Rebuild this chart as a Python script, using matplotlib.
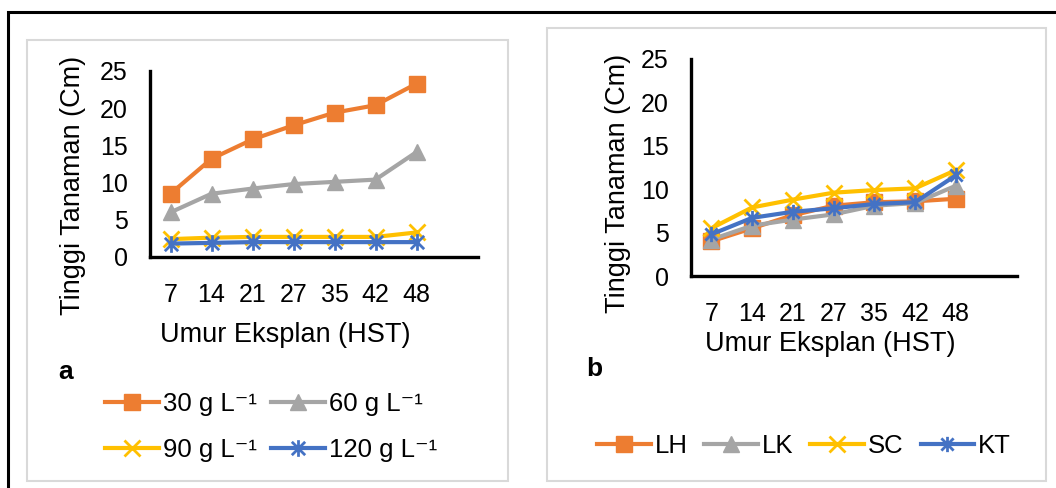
import numpy as np
import matplotlib
matplotlib.use("Agg")
import matplotlib.pyplot as plt
from matplotlib.patches import Rectangle
from matplotlib.path import Path

plt.rcParams['font.family'] = ['Liberation Sans', 'DejaVu Sans']

# data
umur = ['7', '14', '21', '27', '35', '42', '48']

g30 = [8.5, 13.2, 15.8, 17.7, 19.4, 20.4, 23.3]
g60 = [6.0, 8.5, 9.2, 9.8, 10.1, 10.4, 14.1]
g90 = [2.4, 2.6, 2.7, 2.7, 2.7, 2.7, 3.3]
g120 = [1.8, 1.9, 2.0, 2.0, 2.0, 2.0, 2.0]

lh = [4.0, 5.5, 7.0, 8.1, 8.5, 8.6, 8.9]
lk = [4.2, 5.8, 6.5, 7.1, 8.1, 8.4, 10.4]
sc = [5.5, 7.9, 8.8, 9.6, 9.9, 10.1, 12.2]
kt = [4.8, 6.7, 7.4, 7.8, 8.3, 8.5, 11.6]

orange = '#ED7D31'
gray = '#A5A5A5'
yellow = '#FFC000'
blue = '#4472C4'

# excel-like star marker: X plus vertical bar
star = Path([(0, -1), (0, 1), (-0.8, -0.8), (0.8, 0.8), (-0.8, 0.8), (0.8, -0.8)],
            [Path.MOVETO, Path.LINETO, Path.MOVETO, Path.LINETO, Path.MOVETO, Path.LINETO])

W, H = 1056, 488
fig = plt.figure(figsize=(W / 100, H / 100), dpi=100)


def px(x0, y0, x1, y1):
    # pixel box -> figure fraction [l, b, w, h]
    return [x0 / W, 1 - y1 / H, (x1 - x0) / W, (y1 - y0) / H]


# frames
fig.add_artist(Rectangle((8 / W, -0.1), 1.2, 1.1 - 12 / H, transform=fig.transFigure,
                         fill=False, ec='black', lw=2.2))
for box in [(27, 40, 508, 481), (547, 28, 1046, 481)]:
    l, b, w, h = px(*box)
    fig.add_artist(Rectangle((l, b), w, h, transform=fig.transFigure,
                             fill=False, ec='#D9D9D9', lw=1.5))

x = np.arange(len(umur))


def style(ax, xl, yl):
    ax.set_xlim(-0.5, 7.5)
    ax.set_ylim(0, 25)
    ax.set_yticks([0, 5, 10, 15, 20, 25])
    ax.set_xticks(x)
    ax.set_xticklabels(umur)
    for s in ['top', 'right']:
        ax.spines[s].set_visible(False)
    for s in ['left', 'bottom']:
        ax.spines[s].set_linewidth(2.4)
        ax.spines[s].set_color('black')
    ax.tick_params(length=0, labelsize=18, pad=16)
    ax.tick_params(axis='x', pad=19)
    ax.set_xlabel('Umur Eksplan (HST)', fontsize=19.5, va='center')
    ax.set_ylabel('Tinggi Tanaman (Cm)', fontsize=19.5, va='center')
    ax.xaxis.set_label_coords(*xl)
    ax.yaxis.set_label_coords(*yl)
    ax.patch.set_alpha(0)


kw = dict(lw=3.0, ms=12)

ax1 = fig.add_axes(px(150, 71, 478, 257))
l1, = ax1.plot(x, g30, color=orange, marker='s', label='30 g L\u207b\u00b9', **kw)
l2, = ax1.plot(x, g60, color=gray, marker='^', label='60 g L\u207b\u00b9', **kw)
l3, = ax1.plot(x, g90, color=yellow, marker='x', mew=2, label='90 g L\u207b\u00b9', **kw)
l4, = ax1.plot(x, g120, color=blue, marker=star, mew=2, label='120 g L\u207b\u00b9', **kw)
style(ax1, (0.412, -0.42), (-0.235, 0.387))

ax2 = fig.add_axes(px(691, 59, 1017, 276))
kw2 = dict(lw=3.0, ms=11)
ax2.plot(x, lh, color=orange, marker='s', label='LH', **kw2)
ax2.plot(x, lk, color=gray, marker='^', label='LK', **kw2)
ax2.plot(x, sc, color=yellow, marker='x', mew=2, label='SC', **kw2)
ax2.plot(x, kt, color=blue, marker=star, mew=2, label='KT', **kw2)
style(ax2, (0.426, -0.315), (-0.224, 0.4286))

fig.text(66 / W, 1 - 372 / H, 'a', fontsize=19, fontweight='bold', ha='center', va='center')
fig.text(594 / W, 1 - 369 / H, 'b', fontsize=19, fontweight='bold', ha='center', va='center')

# row-major order: 30, 60 / 90, 120
fig.legend(handles=[l1, l3, l2, l4], loc='upper left', bbox_to_anchor=(92 / W, 1 - 379 / H),
           ncol=2, frameon=False, fontsize=18.5, handlelength=2.1, handletextpad=0.15,
           columnspacing=0.55, labelspacing=0.85, borderpad=0)
ax2.legend(loc='upper left', bbox_to_anchor=(584 / W, 1 - 421 / H),
           bbox_transform=fig.transFigure, ncol=4, frameon=False, fontsize=18.5,
           handlelength=2.1, handletextpad=0.15, columnspacing=0.65, borderpad=0)

fig.savefig('out.png', dpi=100)
